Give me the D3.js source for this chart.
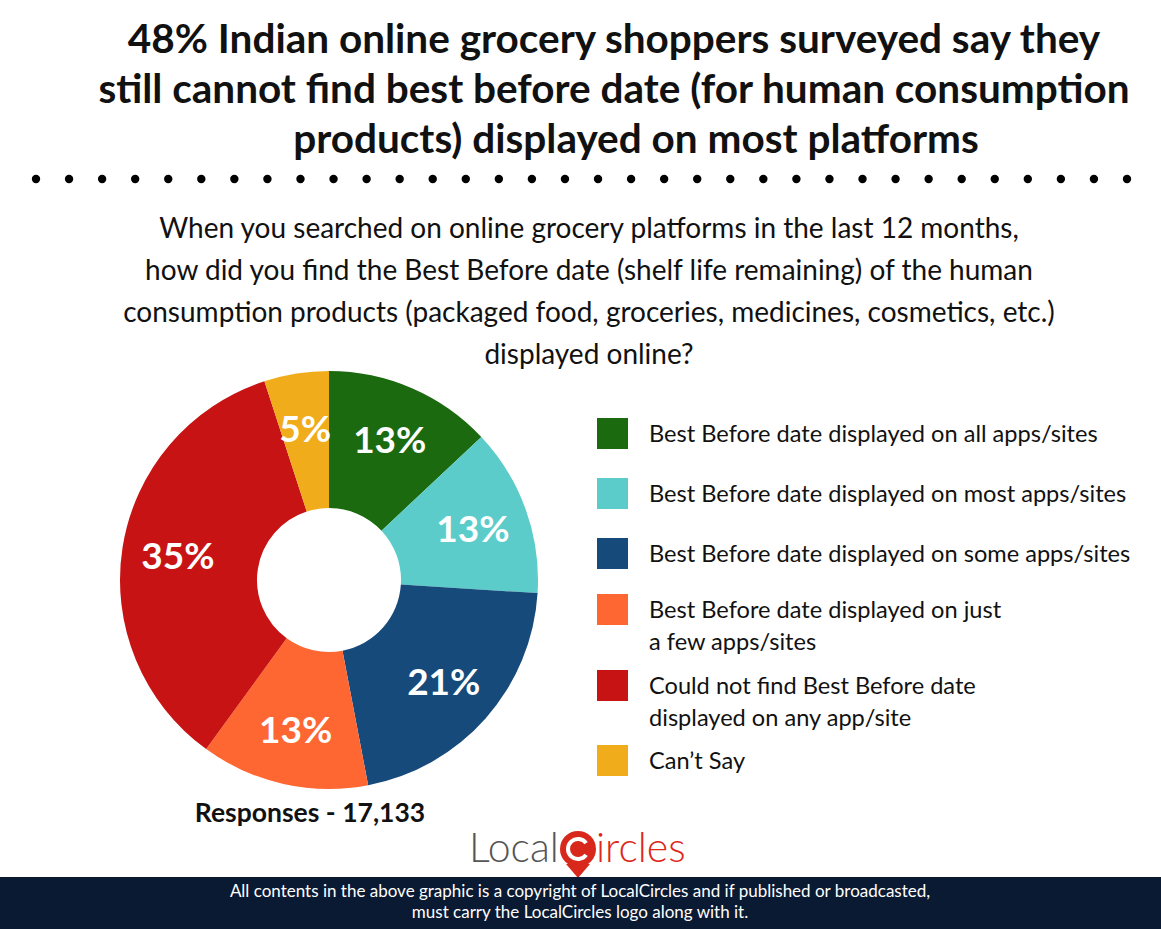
<!DOCTYPE html>
<html>
<head>
<meta charset="utf-8">
<script src="https://cdn.jsdelivr.net/npm/d3@7"></script>
<style>
  body { margin: 0; background: #fff; }
  svg { display: block; font-family: Lato, "Open Sans", sans-serif; }
</style>
</head>
<body>
<svg id="chart" width="1161" height="929"></svg>
<script>
var titleLines = [
  "48% Indian online grocery shoppers surveyed say they",
  "still cannot find best before date (for human consumption",
  "products) displayed on most platforms"
];
var questionLines = [
  "When you searched on online grocery platforms in the last 12 months,",
  "how did you find the Best Before date (shelf life remaining) of the human",
  "consumption products (packaged food, groceries, medicines, cosmetics, etc.)",
  "displayed online?"
];
var categories = [
  ["Best Before date displayed on all apps/sites"],
  ["Best Before date displayed on most apps/sites"],
  ["Best Before date displayed on some apps/sites"],
  ["Best Before date displayed on just", "a few apps/sites"],
  ["Could not find Best Before date", "displayed on any app/site"],
  ["Can\u2019t Say"]
];
var values = [13, 13, 21, 13, 35, 5];
var colors = ["#1b6a10", "#5ccccb", "#164a7b", "#fe6632", "#c71313", "#f0ac1a"];
var responses = "Responses - 17,133";
var footerLines = [
  "All contents in the above graphic is a copyright of LocalCircles and if published or broadcasted,",
  "must carry the LocalCircles logo along with it."
];

var svg = d3.select("#chart"),
  width = +svg.attr("width"),
  height = +svg.attr("height");

// title
svg.append("g").selectAll("text")
  .data(titleLines)
  .join("text")
    .attr("x", function (d, i) { return i == 2 ? 636 : 614; })
    .attr("y", function (d, i) { return 53 + i * 50; })
    .attr("text-anchor", "middle")
    .attr("font-size", 40.5)
    .attr("font-weight", 700)
    .attr("fill", "#111")
    .text(function (d) { return d; });

// dotted separator
var dots = d3.range(34);
var dotX = d3.scalePoint().domain(dots).range([36, 1127]);
svg.append("g").selectAll("circle")
  .data(dots)
  .join("circle")
    .attr("cx", function (d) { return dotX(d); })
    .attr("cy", 179)
    .attr("r", 4.2)
    .attr("fill", "#000");

// question
svg.append("g").selectAll("text")
  .data(questionLines)
  .join("text")
    .attr("x", 589)
    .attr("y", function (d, i) { return 238 + i * 42; })
    .attr("text-anchor", "middle")
    .attr("font-size", 28)
    .attr("fill", "#111")
    .text(function (d) { return d; });

// donut
var cx = 329, cy = 580, rOuter = 209, rInner = 72;
var pie = d3.pie().sort(null).value(function (d) { return d; });
var arc = d3.arc().innerRadius(rInner).outerRadius(rOuter);
var labelArc = d3.arc().innerRadius(153).outerRadius(153);
var arcs = pie(values);

var donut = svg.append("g").attr("transform", "translate(" + cx + "," + cy + ")");
donut.selectAll("path")
  .data(arcs)
  .join("path")
    .attr("d", arc)
    .attr("fill", function (d, i) { return colors[i]; });

donut.selectAll("text")
  .data(arcs)
  .join("text")
    .attr("transform", function (d) { return "translate(" + labelArc.centroid(d) + ")"; })
    .attr("text-anchor", "middle")
    .attr("dy", "0.36em")
    .attr("font-size", 37)
    .attr("font-weight", 700)
    .attr("fill", "#fff")
    .text(function (d) { return d.data + "%"; });

svg.append("text")
  .attr("x", 310)
  .attr("y", 822)
  .attr("text-anchor", "middle")
  .attr("font-size", 26.5)
  .attr("font-weight", 700)
  .attr("fill", "#111")
  .text(responses);

// legend
var legendTops = [418, 478, 538, 594, 670, 745];
var legend = svg.append("g").selectAll("g")
  .data(categories)
  .join("g")
    .attr("transform", function (d, i) { return "translate(597," + legendTops[i] + ")"; });

legend.append("rect")
  .attr("width", 31)
  .attr("height", 31)
  .attr("fill", function (d, i) { return colors[i]; });

legend.append("text")
  .attr("x", 52)
  .attr("y", 24)
  .attr("font-size", 23.6)
  .attr("fill", "#111")
  .selectAll("tspan")
  .data(function (d) { return d; })
  .join("tspan")
    .attr("x", 52)
    .attr("dy", function (d, i) { return i ? 32 : 0; })
    .text(function (d) { return d; });

// logo
var logo = svg.append("g");
logo.append("text")
  .attr("x", 469)
  .attr("y", 862)
  .attr("font-size", 41)
  .attr("font-weight", 300)
  .attr("fill", "#555")
  .text("Local");
logo.append("path")
  .attr("d", "M566,864 L578,878 L590,864 Z")
  .attr("fill", "#d8281c");
logo.append("circle")
  .attr("cx", 578)
  .attr("cy", 849)
  .attr("r", 18)
  .attr("fill", "#d8281c");
logo.append("path")
  .attr("d", d3.arc().innerRadius(8).outerRadius(12).startAngle(Math.PI * 0.2).endAngle(Math.PI * 1.8)())
  .attr("transform", "translate(578,849) rotate(90)")
  .attr("fill", "#fff");
logo.append("text")
  .attr("x", 596)
  .attr("y", 862)
  .attr("font-size", 41)
  .attr("font-weight", 300)
  .attr("fill", "#e0261a")
  .text("ircles");

// footer
svg.append("rect")
  .attr("x", 0)
  .attr("y", 877)
  .attr("width", width)
  .attr("height", height - 877)
  .attr("fill", "#0b1a33");
svg.append("g").selectAll("text")
  .data(footerLines)
  .join("text")
    .attr("x", 580)
    .attr("y", function (d, i) { return 897 + i * 21; })
    .attr("text-anchor", "middle")
    .attr("font-size", 17)
    .attr("fill", "#fff")
    .text(function (d) { return d; });
</script>
</body>
</html>
